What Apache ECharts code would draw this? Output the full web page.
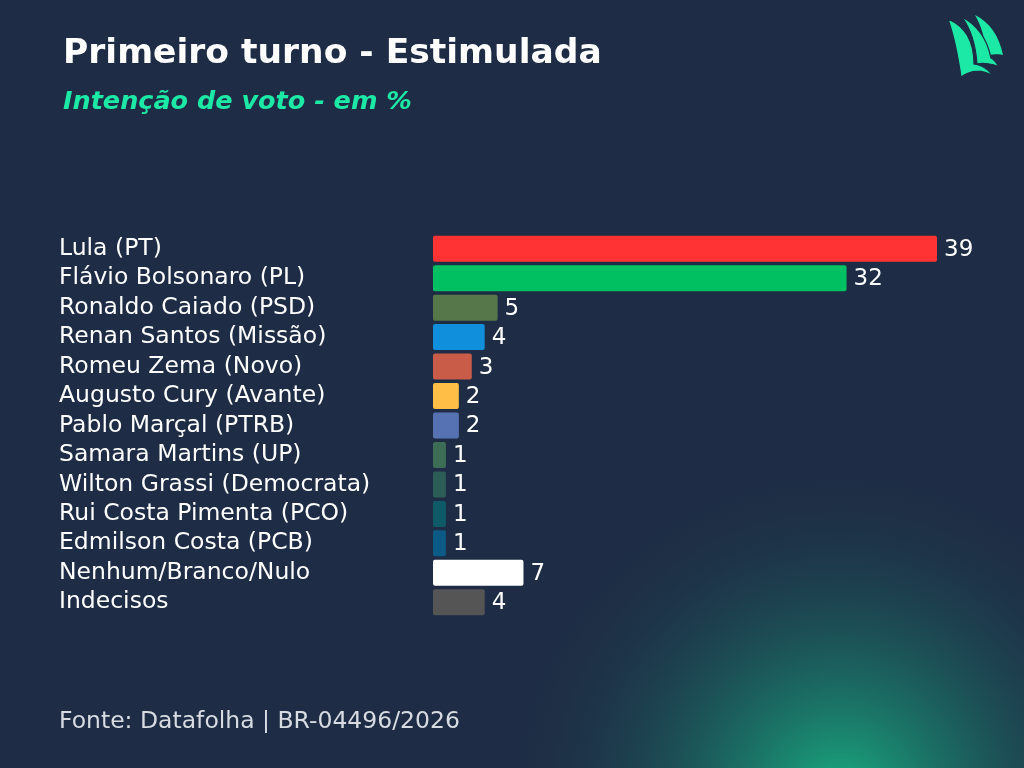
<!DOCTYPE html>
<html>
<head>
<meta charset="utf-8">
<script src="https://cdn.jsdelivr.net/npm/echarts@6/dist/echarts.min.js"></script>
<style>
  html, body { margin: 0; padding: 0; background: #1e2d45; }
  #main { width: 1024px; height: 768px; }
</style>
</head>
<body>
<div id="main"></div>
<script>
const chartDom = document.getElementById('main');
const myChart = echarts.init(chartDom);

// dados
const candidates = [
	'Lula (PT)', 'Flávio Bolsonaro (PL)', 'Ronaldo Caiado (PSD)', 'Renan Santos (Missão)',
	'Romeu Zema (Novo)', 'Augusto Cury (Avante)', 'Pablo Marçal (PTRB)', 'Samara Martins (UP)',
	'Wilton Grassi (Democrata)', 'Rui Costa Pimenta (PCO)', 'Edmilson Costa (PCB)',
	'Nenhum/Branco/Nulo', 'Indecisos'
];
const votes = [39, 32, 5, 4, 3, 2, 2, 1, 1, 1, 1, 7, 4];
const barColors = [
	'#ff3333', '#00c062', '#55774a', '#1090dc', '#c95b49', '#ffbf47', '#5672b2',
	'#3e6d55', '#2d5d57', '#0f5a67', '#0c5a86', '#ffffff', '#555555'
];

const FONT = '"DejaVu Sans", "Open Sans", sans-serif';

// logo: curvas bezier quadráticas viram pontos de polígono
function sail(pts) {
	let out = [pts[0]];
	for (let i = 1; i + 1 < pts.length; i += 2) {
		let p0 = out[out.length - 1], c = pts[i], p1 = pts[i + 1];
		for (let t = 0.125; t <= 1.001; t += 0.125) {
			let u = 1 - t;
			out.push([
				u * u * p0[0] + 2 * u * t * c[0] + t * t * p1[0],
				u * u * p0[1] + 2 * u * t * c[1] + t * t * p1[1]
			]);
		}
	}
	return out;
}

const logoBack = sail([
	[975, 15], [997, 26], [1003, 55], [994, 53], [987, 56], [984, 30], [975, 15]
]);
const logoMid = sail([
	[962, 17], [985, 29], [991, 58], [995, 60], [999, 67],
	[988, 62], [977, 64], [975, 35], [962, 17]
]);
const logoFront = sail([
	[948, 19], [956, 42], [961, 77], [977, 66], [993, 76],
	[985, 65], [974, 64], [974, 30], [948, 19]
]);

let option = {
	backgroundColor: '#1e2d45',
	animation: false,
	graphic: [
		{
			type: 'circle',
			z: -10,
			shape: { cx: 840, cy: 800, r: 340 },
			style: {
				fill: new echarts.graphic.RadialGradient(0.5, 0.5, 0.5, [
					{ offset: 0, color: 'rgba(24,200,140,0.85)' },
					{ offset: 0.45, color: 'rgba(24,150,120,0.4)' },
					{ offset: 1, color: 'rgba(30,45,69,0)' }
				])
			}
		},
		{
			type: 'text',
			x: 63,
			y: 54,
			style: {
				text: 'Primeiro turno - Estimulada',
				fill: '#ffffff',
				fontFamily: FONT,
				fontWeight: 'bold',
				fontSize: 34.5,
				verticalAlign: 'middle'
			}
		},
		{
			type: 'text',
			x: 63,
			y: 102,
			style: {
				text: 'Intenção de voto - em %',
				fill: '#1de9a6',
				fontFamily: FONT,
				fontWeight: 'bold',
				fontStyle: 'italic',
				fontSize: 25.5,
				verticalAlign: 'middle'
			}
		},
		{
			type: 'text',
			x: 59,
			y: 722,
			style: {
				text: 'Fonte: Datafolha | BR-04496/2026',
				fill: '#d8dce2',
				fontFamily: FONT,
				fontSize: 23.5,
				verticalAlign: 'middle'
			}
		},
		{
			type: 'polygon',
			shape: { points: logoBack },
			style: { fill: '#1de9a6' }
		},
		{
			type: 'polygon',
			shape: { points: logoMid },
			style: { fill: '#1de9a6', stroke: '#1e2d45', lineWidth: 1.2 }
		},
		{
			type: 'polygon',
			shape: { points: logoFront },
			style: { fill: '#1de9a6', stroke: '#1e2d45', lineWidth: 1.2 }
		}
	],
	grid: {
		left: 433,
		right: 87,
		top: 234,
		bottom: 151,
		containLabel: false
	},
	xAxis: {
		type: 'value',
		min: 0,
		max: 39,
		show: false
	},
	yAxis: {
		type: 'category',
		data: candidates,
		inverse: true,
		axisLine: { show: false },
		axisTick: { show: false },
		axisLabel: {
			interval: 0,
			align: 'left',
			margin: 374,
			color: '#ffffff',
			fontFamily: FONT,
			fontSize: 23.5
		}
	},
	series: [{
		type: 'bar',
		data: votes.map((v, i) => ({ value: v, itemStyle: { color: barColors[i] } })),
		barWidth: 26,
		itemStyle: { borderRadius: 2 },
		label: {
			show: true,
			position: 'right',
			distance: 7,
			color: '#ffffff',
			fontFamily: FONT,
			fontSize: 23,
			offset: [0, 1]
		}
	}]
};

option && myChart.setOption(option);
</script>
</body>
</html>
